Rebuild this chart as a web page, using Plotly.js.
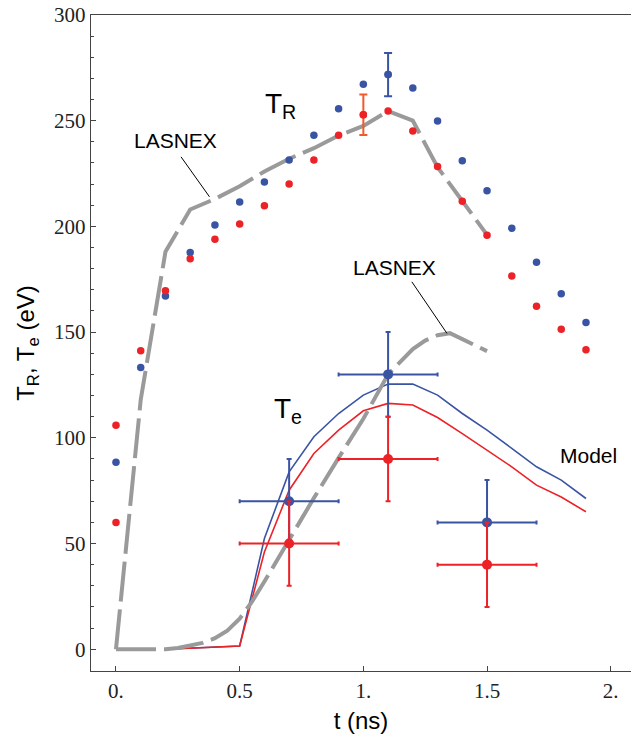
<!DOCTYPE html>
<html>
<head>
<meta charset="utf-8">
<script src="https://cdn.plot.ly/plotly-3.0.1.min.js"></script>
<style>html,body{margin:0;padding:0;background:#fff;}#chart{width:631px;height:734px;}</style>
</head>
<body>
<div id="chart"></div>
<script>
// ---- data ----
const trTime = [0, 0.1, 0.2, 0.3, 0.4, 0.5, 0.6, 0.7, 0.8, 0.9, 1.0, 1.1, 1.2, 1.3, 1.4, 1.5, 1.6, 1.7, 1.8, 1.9];
const trBlue = [88.5, 133.3, 167.1, 187.6, 200.7, 211.6, 221, 231.4, 243.1, 255.6, 267.2, 271.8, 265.5, 249.9, 231.1, 216.9, 199.1, 183.1, 168.1, 154.6];
const trRed  = [106, 141.2, 169.6, 184.7, 193.9, 201.1, 209.8, 220.1, 231.4, 243.1, 252.8, 254.6, 245.1, 228.3, 211.9, 195.8, 176.5, 162.2, 151.3, 141.7];
const trRedExtraTime = [0];
const trRedExtra = [60];
const trBlueErrIndex = 11, trBlueErr = 10.2;
const trRedErrIndex = 10, trRedErr = 9.6;

const lasTRTime = [0, 0.1, 0.2, 0.3, 0.4, 0.5, 0.6, 0.7, 0.8, 0.9, 1.0, 1.1, 1.2, 1.3, 1.4, 1.5];
const lasTR     = [0, 118, 188, 208, 213, 219, 226, 232, 237, 243, 247.5, 254.6, 250, 228, 212, 196];

const lasTeTime = [0, 0.2, 0.25, 0.3, 0.35, 0.4, 0.45, 0.5, 0.55, 0.6, 0.7, 0.8, 0.9, 1.0, 1.1, 1.2, 1.25, 1.3, 1.35, 1.4, 1.5];
const lasTe     = [0, 0, 0.6, 1.6, 3, 5.2, 8.8, 14.5, 22.5, 32, 52, 71.5, 90.5, 109, 130, 142, 146, 148.5, 149.5, 146.5, 141];

const modelTime = [0.2, 0.3, 0.4, 0.5, 0.6, 0.7, 0.8, 0.9, 1.0, 1.1, 1.2, 1.3, 1.4, 1.5, 1.6, 1.7, 1.8, 1.9];
const modelBlue = [0, 0.5, 1, 1.5, 52.4, 83.9, 100.5, 111.5, 120.2, 125.4, 125.4, 120.2, 111.5, 103.6, 95, 86.3, 80, 71.3];
const modelRed  = [0, 0.5, 1, 1.5, 46, 75.2, 92.6, 103.6, 112.8, 116.3, 115.5, 109.6, 102, 94.2, 86.3, 77.6, 72, 65];

const teTime = [0.7, 1.1, 1.5];
const teBlue = [70, 130, 60];
const teRed  = [50, 90, 40];
const teTimeErr = [0.2, 0.2, 0.2];
const teValErr = [20, 20, 20];

const xTickVals = [0, 0.5, 1, 1.5, 2];
const xTickText = ['0.', '0.5', '1.', '1.5', '2.'];

// ---- styles ----
const BLUE = '#3a54a4', RED = '#ec2227', GRAY = '#9a9a9a', ORANGE = '#f15a2b', AX = '#444';

const traces = [
  {x: modelTime, y: modelBlue, mode: 'lines', line: {color: BLUE, width: 1.6}},
  {x: modelTime, y: modelRed, mode: 'lines', line: {color: RED, width: 1.6}},
  {x: lasTRTime, y: lasTR, mode: 'lines', line: {color: GRAY, width: 4, dash: '40px,8px'}},
  {x: lasTeTime, y: lasTe, mode: 'lines', line: {color: GRAY, width: 4, dash: '40px,8px'}},
  {x: teTime, y: teBlue, mode: 'markers', marker: {color: BLUE, size: 10},
   error_x: {type: 'data', array: teTimeErr, color: BLUE, thickness: 2, width: 2},
   error_y: {type: 'data', array: teValErr, color: BLUE, thickness: 2, width: 2.5}},
  {x: teTime, y: teRed, mode: 'markers', marker: {color: RED, size: 10},
   error_x: {type: 'data', array: teTimeErr, color: RED, thickness: 2, width: 2},
   error_y: {type: 'data', array: teValErr, color: RED, thickness: 2, width: 2.5}},
  {x: trTime, y: trBlue, mode: 'markers', marker: {color: BLUE, size: 7.5}},
  {x: trTime, y: trRed, mode: 'markers', marker: {color: RED, size: 7.5}},
  {x: trRedExtraTime, y: trRedExtra, mode: 'markers', marker: {color: RED, size: 7.5}},
  {x: [trTime[trBlueErrIndex]], y: [trBlue[trBlueErrIndex]], mode: 'markers', marker: {color: BLUE, size: 7.5},
   error_y: {type: 'data', array: [trBlueErr], color: BLUE, thickness: 2, width: 4}},
  {x: [trTime[trRedErrIndex]], y: [trRed[trRedErrIndex]], mode: 'markers', marker: {color: RED, size: 7.5},
   error_y: {type: 'data', array: [trRedErr], color: ORANGE, thickness: 2, width: 4}}
];
traces.forEach(t => { t.showlegend = false; t.hoverinfo = 'skip'; });

const annFont = {family: 'Liberation Sans', size: 21, color: '#000'};
const layout = {
  width: 631, height: 734,
  margin: {l: 91, r: 0, t: 15, b: 63},
  paper_bgcolor: '#fff', plot_bgcolor: '#fff',
  showlegend: false,
  xaxis: {
    range: [-0.101, 2.082], tickmode: 'array', tickvals: xTickVals, ticktext: xTickText,
    ticks: 'inside', ticklen: 5, tickwidth: 1, tickcolor: AX,
    showline: true, linecolor: AX, linewidth: 1.3, mirror: true,
    showgrid: false, zeroline: false,
    tickfont: {family: 'Liberation Serif', size: 21, color: '#222'},
    title: {text: 't (ns)', font: {family: 'Liberation Sans', size: 24, color: '#000'}, standoff: 14}
  },
  yaxis: {
    range: [-10.3, 300], tickmode: 'linear', tick0: 0, dtick: 50,
    ticks: 'inside', ticklen: 5, tickwidth: 1, tickcolor: AX,
    minor: {dtick: 10, ticks: 'inside', ticklen: 3, tickcolor: AX, tickwidth: 1, showgrid: false},
    showline: true, linecolor: AX, linewidth: 1.3,
    showgrid: false, zeroline: false,
    tickfont: {family: 'Liberation Serif', size: 21, color: '#222'},
    title: {text: 'T<sub>R</sub>, T<sub>e</sub> (eV)', font: {family: 'Liberation Sans', size: 24, color: '#000'}, standoff: 12}
  },
  annotations: [
    {x: 0.24, y: 240.5, xref: 'x', yref: 'y', text: 'LASNEX', showarrow: false, font: annFont},
    {x: 1.126, y: 180.5, xref: 'x', yref: 'y', text: 'LASNEX', showarrow: false, font: annFont},
    {x: 1.912, y: 91.5, xref: 'x', yref: 'y', text: 'Model', showarrow: false, font: annFont},
    {x: 0.596, y: 257, xref: 'x', yref: 'y', xanchor: 'left', text: 'T<sub>R</sub>', showarrow: false, font: {family: 'Liberation Sans', size: 28, color: '#000'}},
    {x: 0.632, y: 113, xref: 'x', yref: 'y', xanchor: 'left', text: 'T<sub>e</sub>', showarrow: false, font: {family: 'Liberation Sans', size: 28, color: '#000'}}
  ],
  shapes: [
    {type: 'line', xref: 'x', yref: 'y', x0: 0.263, y0: 232.9, x1: 0.378, y1: 214.0, line: {color: '#000', width: 1}},
    {type: 'line', xref: 'x', yref: 'y', x0: 1.196, y0: 173.8, x1: 1.338, y1: 149.4, line: {color: '#000', width: 1}}
  ]
};

Plotly.newPlot('chart', traces, layout, {staticPlot: true, displayModeBar: false});
</script>
</body>
</html>
